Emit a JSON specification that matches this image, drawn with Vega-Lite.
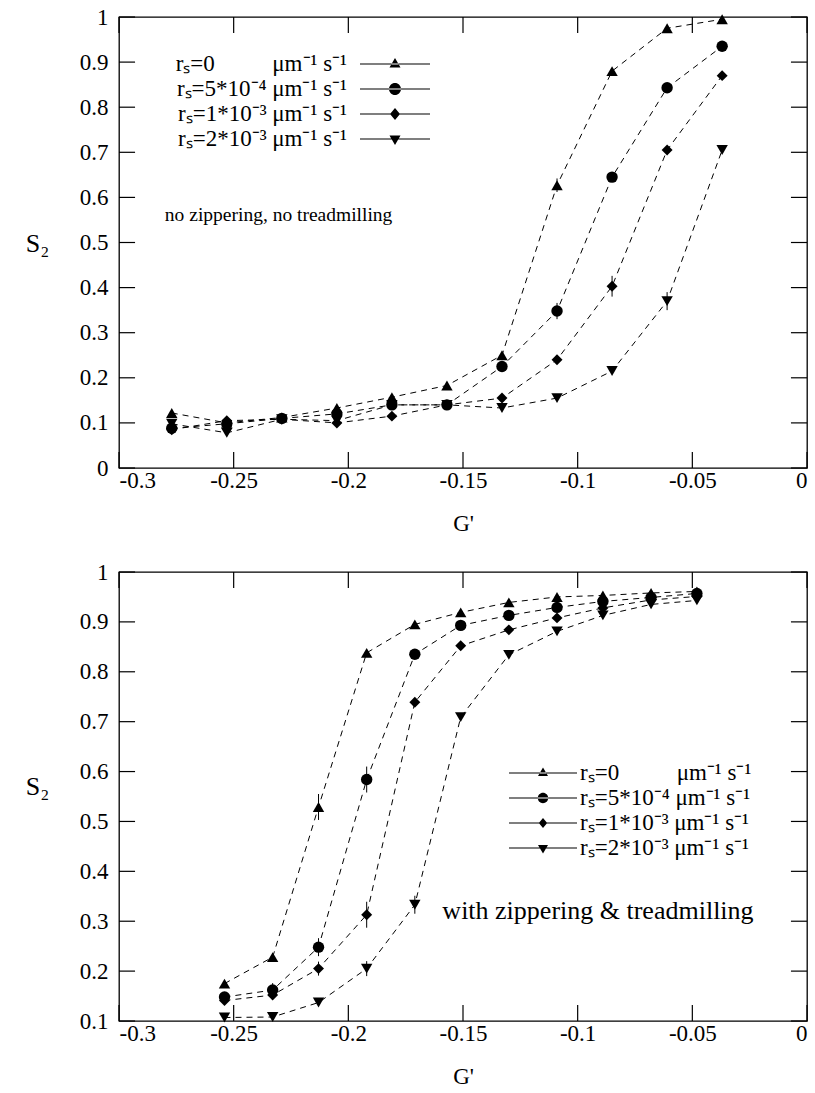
{
  "$schema": "https://vega.github.io/schema/vega-lite/v6.json",
  "padding": {"left": 24, "top": 5, "right": 0, "bottom": 0},
  "bounds": "flush",
  "spacing": 104,
  "config": {
    "font": "Liberation Serif",
    "view": {"stroke": "black", "strokeWidth": 1.3},
    "axis": {"domain": false, "ticks": false, "grid": false,
      "labelFont": "Liberation Serif", "labelFontSize": 23, "labelColor": "black",
      "titleFont": "Liberation Serif", "titleFontSize": 23, "titleFontWeight": "normal", "titleColor": "black"},
    "legend": {"padding": 0, "title": null, "symbolSize": 400, "rowPadding": 1, "labelFont": "Liberation Serif", "labelFontSize": 23, "labelColor": "black", "labelLimit": 400,
      "symbolStrokeColor": "black", "symbolStrokeWidth": 0.8, "symbolFillColor": "black", "symbolOpacity": 1}
  },
  "datasets": {
    "xt": [{"v": -0.3}, {"v": -0.25}, {"v": -0.2}, {"v": -0.15}, {"v": -0.1}, {"v": -0.05}, {"v": 0}],
    "yt1": [{"v": 0}, {"v": 0.1}, {"v": 0.2}, {"v": 0.3}, {"v": 0.4}, {"v": 0.5}, {"v": 0.6}, {"v": 0.7}, {"v": 0.8}, {"v": 0.9}, {"v": 1}],
    "yt2": [{"v": 0.1}, {"v": 0.2}, {"v": 0.3}, {"v": 0.4}, {"v": 0.5}, {"v": 0.6}, {"v": 0.7}, {"v": 0.8}, {"v": 0.9}, {"v": 1}],
    "top": [
      {"g": -0.277, "s2": 0.122, "series": "rs=0"},
      {"g": -0.253, "s2": 0.100, "series": "rs=0"},
      {"g": -0.229, "s2": 0.112, "series": "rs=0"},
      {"g": -0.205, "s2": 0.133, "series": "rs=0"},
      {"g": -0.181, "s2": 0.157, "series": "rs=0"},
      {"g": -0.157, "s2": 0.183, "series": "rs=0"},
      {"g": -0.133, "s2": 0.250, "series": "rs=0"},
      {"g": -0.109, "s2": 0.627, "series": "rs=0"},
      {"g": -0.085, "s2": 0.880, "series": "rs=0"},
      {"g": -0.061, "s2": 0.975, "series": "rs=0"},
      {"g": -0.037, "s2": 0.995, "series": "rs=0"},
      {"g": -0.277, "s2": 0.088, "series": "rs=5e-4"},
      {"g": -0.253, "s2": 0.098, "series": "rs=5e-4"},
      {"g": -0.229, "s2": 0.110, "series": "rs=5e-4"},
      {"g": -0.205, "s2": 0.120, "series": "rs=5e-4"},
      {"g": -0.181, "s2": 0.140, "series": "rs=5e-4"},
      {"g": -0.157, "s2": 0.140, "series": "rs=5e-4"},
      {"g": -0.133, "s2": 0.225, "series": "rs=5e-4"},
      {"g": -0.109, "s2": 0.348, "series": "rs=5e-4"},
      {"g": -0.085, "s2": 0.645, "series": "rs=5e-4"},
      {"g": -0.061, "s2": 0.843, "series": "rs=5e-4"},
      {"g": -0.037, "s2": 0.935, "series": "rs=5e-4"},
      {"g": -0.277, "s2": 0.085, "series": "rs=1e-3"},
      {"g": -0.253, "s2": 0.105, "series": "rs=1e-3"},
      {"g": -0.229, "s2": 0.108, "series": "rs=1e-3"},
      {"g": -0.205, "s2": 0.100, "series": "rs=1e-3"},
      {"g": -0.181, "s2": 0.115, "series": "rs=1e-3"},
      {"g": -0.157, "s2": 0.140, "series": "rs=1e-3"},
      {"g": -0.133, "s2": 0.155, "series": "rs=1e-3"},
      {"g": -0.109, "s2": 0.240, "series": "rs=1e-3"},
      {"g": -0.085, "s2": 0.403, "series": "rs=1e-3"},
      {"g": -0.061, "s2": 0.705, "series": "rs=1e-3"},
      {"g": -0.037, "s2": 0.870, "series": "rs=1e-3"},
      {"g": -0.277, "s2": 0.098, "series": "rs=2e-3"},
      {"g": -0.253, "s2": 0.078, "series": "rs=2e-3"},
      {"g": -0.229, "s2": 0.108, "series": "rs=2e-3"},
      {"g": -0.205, "s2": 0.105, "series": "rs=2e-3"},
      {"g": -0.181, "s2": 0.140, "series": "rs=2e-3"},
      {"g": -0.157, "s2": 0.140, "series": "rs=2e-3"},
      {"g": -0.133, "s2": 0.133, "series": "rs=2e-3"},
      {"g": -0.109, "s2": 0.155, "series": "rs=2e-3"},
      {"g": -0.085, "s2": 0.215, "series": "rs=2e-3"},
      {"g": -0.061, "s2": 0.370, "series": "rs=2e-3"},
      {"g": -0.037, "s2": 0.705, "series": "rs=2e-3"}
    ],
    "bottom": [
      {"g": -0.254, "s2": 0.175, "series": "rs=0"},
      {"g": -0.233, "s2": 0.228, "series": "rs=0"},
      {"g": -0.213, "s2": 0.529, "series": "rs=0"},
      {"g": -0.192, "s2": 0.838, "series": "rs=0"},
      {"g": -0.171, "s2": 0.895, "series": "rs=0"},
      {"g": -0.151, "s2": 0.919, "series": "rs=0"},
      {"g": -0.130, "s2": 0.939, "series": "rs=0"},
      {"g": -0.109, "s2": 0.950, "series": "rs=0"},
      {"g": -0.089, "s2": 0.953, "series": "rs=0"},
      {"g": -0.068, "s2": 0.958, "series": "rs=0"},
      {"g": -0.048, "s2": 0.961, "series": "rs=0"},
      {"g": -0.254, "s2": 0.148, "series": "rs=5e-4"},
      {"g": -0.233, "s2": 0.162, "series": "rs=5e-4"},
      {"g": -0.213, "s2": 0.248, "series": "rs=5e-4"},
      {"g": -0.192, "s2": 0.584, "series": "rs=5e-4"},
      {"g": -0.171, "s2": 0.835, "series": "rs=5e-4"},
      {"g": -0.151, "s2": 0.893, "series": "rs=5e-4"},
      {"g": -0.130, "s2": 0.913, "series": "rs=5e-4"},
      {"g": -0.109, "s2": 0.929, "series": "rs=5e-4"},
      {"g": -0.089, "s2": 0.941, "series": "rs=5e-4"},
      {"g": -0.068, "s2": 0.949, "series": "rs=5e-4"},
      {"g": -0.048, "s2": 0.957, "series": "rs=5e-4"},
      {"g": -0.254, "s2": 0.141, "series": "rs=1e-3"},
      {"g": -0.233, "s2": 0.152, "series": "rs=1e-3"},
      {"g": -0.213, "s2": 0.205, "series": "rs=1e-3"},
      {"g": -0.192, "s2": 0.313, "series": "rs=1e-3"},
      {"g": -0.171, "s2": 0.739, "series": "rs=1e-3"},
      {"g": -0.151, "s2": 0.852, "series": "rs=1e-3"},
      {"g": -0.130, "s2": 0.884, "series": "rs=1e-3"},
      {"g": -0.109, "s2": 0.908, "series": "rs=1e-3"},
      {"g": -0.089, "s2": 0.928, "series": "rs=1e-3"},
      {"g": -0.068, "s2": 0.944, "series": "rs=1e-3"},
      {"g": -0.048, "s2": 0.951, "series": "rs=1e-3"},
      {"g": -0.254, "s2": 0.107, "series": "rs=2e-3"},
      {"g": -0.233, "s2": 0.108, "series": "rs=2e-3"},
      {"g": -0.213, "s2": 0.137, "series": "rs=2e-3"},
      {"g": -0.192, "s2": 0.205, "series": "rs=2e-3"},
      {"g": -0.171, "s2": 0.333, "series": "rs=2e-3"},
      {"g": -0.151, "s2": 0.709, "series": "rs=2e-3"},
      {"g": -0.130, "s2": 0.834, "series": "rs=2e-3"},
      {"g": -0.109, "s2": 0.881, "series": "rs=2e-3"},
      {"g": -0.089, "s2": 0.913, "series": "rs=2e-3"},
      {"g": -0.068, "s2": 0.935, "series": "rs=2e-3"},
      {"g": -0.048, "s2": 0.943, "series": "rs=2e-3"}
    ],
    "topErr": [
      {"g": -0.109, "lo": 0.612, "hi": 0.642},
      {"g": -0.085, "lo": 0.38, "hi": 0.426},
      {"g": -0.061, "lo": 0.35, "hi": 0.39},
      {"g": -0.109, "lo": 0.33, "hi": 0.366}
    ],
    "bottomErr": [
      {"g": -0.213, "lo": 0.503, "hi": 0.555},
      {"g": -0.192, "lo": 0.558, "hi": 0.61},
      {"g": -0.213, "lo": 0.23, "hi": 0.266},
      {"g": -0.192, "lo": 0.287, "hi": 0.339},
      {"g": -0.233, "lo": 0.148, "hi": 0.176},
      {"g": -0.213, "lo": 0.191, "hi": 0.219},
      {"g": -0.192, "lo": 0.19, "hi": 0.22},
      {"g": -0.171, "lo": 0.315, "hi": 0.351}
    ]
  },
  "resolve": {"scale": {"x": "independent", "y": "independent", "shape": "independent"}, "legend": {"shape": "independent"}},
  "vconcat": [
    {
      "width": 688,
      "height": 451,
      "resolve": {"axis": {"x": "independent", "y": "independent"}},
      "layer": [
        {
          "data": {"name": "top"},
          "mark": {"type": "line", "strokeDash": [6, 5], "strokeWidth": 1, "color": "black"},
          "encoding": {
            "x": {"field": "g", "type": "quantitative", "scale": {"domain": [-0.3, 0], "nice": false, "zero": false},
              "axis": {"orient": "bottom", "values": [-0.3, -0.25, -0.2, -0.15, -0.1, -0.05, 0], "labelExpr": "toString(datum.value)", "title": "G'", "labelPadding": 1, "titlePadding": 20}},
            "y": {"field": "s2", "type": "quantitative", "scale": {"domain": [0, 1], "nice": false, "zero": false},
              "axis": {"orient": "left", "values": [0, 0.1, 0.2, 0.3, 0.4, 0.5, 0.6, 0.7, 0.8, 0.9, 1], "labelExpr": "toString(datum.value)", "labelPadding": 11,
                "title": "S₂", "titleAngle": 0, "titleX": -82, "titleY": 226, "titleAlign": "center", "titleBaseline": "middle", "titleFontSize": 26}},
            "detail": {"field": "series"}
          }
        },
        {
          "data": {"name": "xt"},
          "mark": {"type": "rule", "color": "black", "strokeWidth": 1.2},
          "encoding": {
            "x": {"field": "v", "type": "quantitative", "scale": {"domain": [-0.3, 0], "nice": false, "zero": false}, "axis": null},
            "y": {"datum": 0, "type": "quantitative", "scale": {"domain": [0, 1], "nice": false, "zero": false}, "axis": null},
            "y2": {"datum": 0.0355}
          }
        },
        {
          "data": {"name": "xt"},
          "mark": {"type": "rule", "color": "black", "strokeWidth": 1.2},
          "encoding": {
            "x": {"field": "v", "type": "quantitative", "scale": {"domain": [-0.3, 0], "nice": false, "zero": false}, "axis": null},
            "y": {"datum": 0.9645, "type": "quantitative", "scale": {"domain": [0, 1], "nice": false, "zero": false}, "axis": null},
            "y2": {"datum": 1}
          }
        },
        {
          "data": {"name": "yt1"},
          "mark": {"type": "rule", "color": "black", "strokeWidth": 1.2},
          "encoding": {
            "y": {"field": "v", "type": "quantitative", "scale": {"domain": [0, 1], "nice": false, "zero": false}, "axis": null},
            "x": {"datum": -0.3, "type": "quantitative", "scale": {"domain": [-0.3, 0], "nice": false, "zero": false}, "axis": null},
            "x2": {"datum": -0.293}
          }
        },
        {
          "data": {"name": "yt1"},
          "mark": {"type": "rule", "color": "black", "strokeWidth": 1.2},
          "encoding": {
            "y": {"field": "v", "type": "quantitative", "scale": {"domain": [0, 1], "nice": false, "zero": false}, "axis": null},
            "x": {"datum": -0.007, "type": "quantitative", "scale": {"domain": [-0.3, 0], "nice": false, "zero": false}, "axis": null},
            "x2": {"datum": 0}
          }
        },
        {
          "data": {"name": "topErr"},
          "mark": {"type": "rule", "color": "black", "strokeWidth": 1},
          "encoding": {
            "x": {"field": "g", "type": "quantitative", "scale": {"domain": [-0.3, 0], "nice": false, "zero": false}, "axis": null},
            "y": {"field": "lo", "type": "quantitative", "scale": {"domain": [0, 1], "nice": false, "zero": false}, "axis": null},
            "y2": {"field": "hi"}
          }
        },
        {
          "data": {"name": "top"},
          "transform": [{"filter": "datum.series == 'rs=0'"}],
          "mark": {"type": "point", "shape": "triangle-up", "filled": true, "size": 130, "color": "black", "opacity": 1},
          "encoding": {
            "x": {"field": "g", "type": "quantitative", "scale": {"domain": [-0.3, 0], "nice": false, "zero": false}, "axis": null},
            "y": {"field": "s2", "type": "quantitative", "scale": {"domain": [0, 1], "nice": false, "zero": false}, "axis": null}
          }
        },
        {
          "data": {"name": "top"},
          "transform": [{"filter": "datum.series == 'rs=5e-4'"}],
          "mark": {"type": "point", "shape": "circle", "filled": true, "size": 130, "color": "black", "opacity": 1},
          "encoding": {
            "x": {"field": "g", "type": "quantitative", "scale": {"domain": [-0.3, 0], "nice": false, "zero": false}, "axis": null},
            "y": {"field": "s2", "type": "quantitative", "scale": {"domain": [0, 1], "nice": false, "zero": false}, "axis": null}
          }
        },
        {
          "data": {"name": "top"},
          "transform": [{"filter": "datum.series == 'rs=1e-3'"}],
          "mark": {"type": "point", "shape": "diamond", "filled": true, "size": 120, "color": "black", "opacity": 1},
          "encoding": {
            "x": {"field": "g", "type": "quantitative", "scale": {"domain": [-0.3, 0], "nice": false, "zero": false}, "axis": null},
            "y": {"field": "s2", "type": "quantitative", "scale": {"domain": [0, 1], "nice": false, "zero": false}, "axis": null}
          }
        },
        {
          "data": {"name": "top"},
          "transform": [{"filter": "datum.series == 'rs=2e-3'"}],
          "mark": {"type": "point", "shape": "triangle-down", "filled": true, "size": 130, "color": "black", "opacity": 1},
          "encoding": {
            "x": {"field": "g", "type": "quantitative", "scale": {"domain": [-0.3, 0], "nice": false, "zero": false}, "axis": null},
            "y": {"field": "s2", "type": "quantitative", "scale": {"domain": [0, 1], "nice": false, "zero": false}, "axis": null}
          }
        },
        {
          "data": {"name": "top"},
          "mark": {"type": "point", "filled": true, "opacity": 0, "fill": "black", "stroke": "black", "strokeWidth": 0.8},
          "encoding": {
            "x": {"field": "g", "type": "quantitative", "scale": {"domain": [-0.3, 0], "nice": false, "zero": false}, "axis": null},
            "y": {"field": "s2", "type": "quantitative", "scale": {"domain": [0, 1], "nice": false, "zero": false}, "axis": null},
            "shape": {"field": "series", "type": "nominal",
              "scale": {"domain": ["rs=0", "rs=5e-4", "rs=1e-3", "rs=2e-3"],
                "range": [
                  "M-3.5,-0.06L3.5,-0.06L3.5,0.06L-3.5,0.06ZM-0.55,0.35L0.55,0.35L0,-0.6Z",
                  "M-3.5,-0.06L3.5,-0.06L3.5,0.06L-3.5,0.06ZM-0.6,0A0.6,0.6 0 1,0 0.6,0A0.6,0.6 0 1,0 -0.6,0Z",
                  "M-3.5,-0.06L3.5,-0.06L3.5,0.06L-3.5,0.06ZM-0.5,0L0,-0.6L0.5,0L0,0.6Z",
                  "M-3.5,-0.06L3.5,-0.06L3.5,0.06L-3.5,0.06ZM-0.55,-0.35L0.55,-0.35L0,0.6Z"
                ]},
              "legend": {"orient": "none", "legendX": 264.5, "legendY": 35.5, "labelAlign": "right", "labelOffset": -59.5,
                "symbolStrokeColor": "black", "symbolStrokeWidth": 0.8, "symbolFillColor": "black", "symbolOpacity": 1,
                "labelExpr": "datum.label == 'rs=0' ? 'rₛ=0\u00a0\u00a0\u00a0\u00a0\u00a0\u00a0\u00a0\u00a0\u00a0 μm⁻¹ s⁻¹' : datum.label == 'rs=5e-4' ? 'rₛ=5*10⁻⁴ μm⁻¹ s⁻¹' : datum.label == 'rs=1e-3' ? 'rₛ=1*10⁻³ μm⁻¹ s⁻¹' : 'rₛ=2*10⁻³ μm⁻¹ s⁻¹'"}
            }
          }
        },
        {
          "data": {"values": [{"g": -0.28, "s2": 0.56, "note": "no zippering, no treadmilling"}]},
          "mark": {"type": "text", "align": "left", "baseline": "middle", "fontSize": 19.5, "color": "black", "font": "Liberation Serif"},
          "encoding": {
            "x": {"field": "g", "type": "quantitative", "scale": {"domain": [-0.3, 0], "nice": false, "zero": false}, "axis": null},
            "y": {"field": "s2", "type": "quantitative", "scale": {"domain": [0, 1], "nice": false, "zero": false}, "axis": null},
            "text": {"field": "note"}
          }
        }
      ]
    },
    {
      "width": 688,
      "height": 449,
      "resolve": {"axis": {"x": "independent", "y": "independent"}},
      "layer": [
        {
          "data": {"name": "bottom"},
          "mark": {"type": "line", "strokeDash": [6, 5], "strokeWidth": 1, "color": "black"},
          "encoding": {
            "x": {"field": "g", "type": "quantitative", "scale": {"domain": [-0.3, 0], "nice": false, "zero": false},
              "axis": {"orient": "bottom", "values": [-0.3, -0.25, -0.2, -0.15, -0.1, -0.05, 0], "labelExpr": "toString(datum.value)", "title": "G'", "labelPadding": 1, "titlePadding": 20}},
            "y": {"field": "s2", "type": "quantitative", "scale": {"domain": [0.1, 1], "nice": false, "zero": false},
              "axis": {"orient": "left", "values": [0.1, 0.2, 0.3, 0.4, 0.5, 0.6, 0.7, 0.8, 0.9, 1], "labelExpr": "toString(datum.value)", "labelPadding": 11,
                "title": "S₂", "titleAngle": 0, "titleX": -82, "titleY": 214, "titleAlign": "center", "titleBaseline": "middle", "titleFontSize": 26}},
            "detail": {"field": "series"}
          }
        },
        {
          "data": {"name": "xt"},
          "mark": {"type": "rule", "color": "black", "strokeWidth": 1.2},
          "encoding": {
            "x": {"field": "v", "type": "quantitative", "scale": {"domain": [-0.3, 0], "nice": false, "zero": false}, "axis": null},
            "y": {"datum": 0.1, "type": "quantitative", "scale": {"domain": [0.1, 1], "nice": false, "zero": false}, "axis": null},
            "y2": {"datum": 0.132}
          }
        },
        {
          "data": {"name": "xt"},
          "mark": {"type": "rule", "color": "black", "strokeWidth": 1.2},
          "encoding": {
            "x": {"field": "v", "type": "quantitative", "scale": {"domain": [-0.3, 0], "nice": false, "zero": false}, "axis": null},
            "y": {"datum": 0.968, "type": "quantitative", "scale": {"domain": [0.1, 1], "nice": false, "zero": false}, "axis": null},
            "y2": {"datum": 1}
          }
        },
        {
          "data": {"name": "yt2"},
          "mark": {"type": "rule", "color": "black", "strokeWidth": 1.2},
          "encoding": {
            "y": {"field": "v", "type": "quantitative", "scale": {"domain": [0.1, 1], "nice": false, "zero": false}, "axis": null},
            "x": {"datum": -0.3, "type": "quantitative", "scale": {"domain": [-0.3, 0], "nice": false, "zero": false}, "axis": null},
            "x2": {"datum": -0.293}
          }
        },
        {
          "data": {"name": "yt2"},
          "mark": {"type": "rule", "color": "black", "strokeWidth": 1.2},
          "encoding": {
            "y": {"field": "v", "type": "quantitative", "scale": {"domain": [0.1, 1], "nice": false, "zero": false}, "axis": null},
            "x": {"datum": -0.007, "type": "quantitative", "scale": {"domain": [-0.3, 0], "nice": false, "zero": false}, "axis": null},
            "x2": {"datum": 0}
          }
        },
        {
          "data": {"name": "bottomErr"},
          "mark": {"type": "rule", "color": "black", "strokeWidth": 1},
          "encoding": {
            "x": {"field": "g", "type": "quantitative", "scale": {"domain": [-0.3, 0], "nice": false, "zero": false}, "axis": null},
            "y": {"field": "lo", "type": "quantitative", "scale": {"domain": [0.1, 1], "nice": false, "zero": false}, "axis": null},
            "y2": {"field": "hi"}
          }
        },
        {
          "data": {"name": "bottom"},
          "transform": [{"filter": "datum.series == 'rs=0'"}],
          "mark": {"type": "point", "shape": "triangle-up", "filled": true, "size": 130, "color": "black", "opacity": 1},
          "encoding": {
            "x": {"field": "g", "type": "quantitative", "scale": {"domain": [-0.3, 0], "nice": false, "zero": false}, "axis": null},
            "y": {"field": "s2", "type": "quantitative", "scale": {"domain": [0.1, 1], "nice": false, "zero": false}, "axis": null}
          }
        },
        {
          "data": {"name": "bottom"},
          "transform": [{"filter": "datum.series == 'rs=5e-4'"}],
          "mark": {"type": "point", "shape": "circle", "filled": true, "size": 130, "color": "black", "opacity": 1},
          "encoding": {
            "x": {"field": "g", "type": "quantitative", "scale": {"domain": [-0.3, 0], "nice": false, "zero": false}, "axis": null},
            "y": {"field": "s2", "type": "quantitative", "scale": {"domain": [0.1, 1], "nice": false, "zero": false}, "axis": null}
          }
        },
        {
          "data": {"name": "bottom"},
          "transform": [{"filter": "datum.series == 'rs=1e-3'"}],
          "mark": {"type": "point", "shape": "diamond", "filled": true, "size": 120, "color": "black", "opacity": 1},
          "encoding": {
            "x": {"field": "g", "type": "quantitative", "scale": {"domain": [-0.3, 0], "nice": false, "zero": false}, "axis": null},
            "y": {"field": "s2", "type": "quantitative", "scale": {"domain": [0.1, 1], "nice": false, "zero": false}, "axis": null}
          }
        },
        {
          "data": {"name": "bottom"},
          "transform": [{"filter": "datum.series == 'rs=2e-3'"}],
          "mark": {"type": "point", "shape": "triangle-down", "filled": true, "size": 130, "color": "black", "opacity": 1},
          "encoding": {
            "x": {"field": "g", "type": "quantitative", "scale": {"domain": [-0.3, 0], "nice": false, "zero": false}, "axis": null},
            "y": {"field": "s2", "type": "quantitative", "scale": {"domain": [0.1, 1], "nice": false, "zero": false}, "axis": null}
          }
        },
        {
          "data": {"name": "bottom"},
          "mark": {"type": "point", "filled": true, "opacity": 0, "fill": "black", "stroke": "black", "strokeWidth": 0.8},
          "encoding": {
            "x": {"field": "g", "type": "quantitative", "scale": {"domain": [-0.3, 0], "nice": false, "zero": false}, "axis": null},
            "y": {"field": "s2", "type": "quantitative", "scale": {"domain": [0.1, 1], "nice": false, "zero": false}, "axis": null},
            "shape": {"field": "series", "type": "nominal",
              "scale": {"domain": ["rs=0", "rs=5e-4", "rs=1e-3", "rs=2e-3"],
                "range": [
                  "M-3.4,-0.06L3.4,-0.06L3.4,0.06L-3.4,0.06ZM-0.5,0.3L0.5,0.3L0,-0.55Z",
                  "M-3.4,-0.06L3.4,-0.06L3.4,0.06L-3.4,0.06ZM-0.52,0A0.52,0.52 0 1,0 0.52,0A0.52,0.52 0 1,0 -0.52,0Z",
                  "M-3.4,-0.06L3.4,-0.06L3.4,0.06L-3.4,0.06ZM-0.42,0L0,-0.5L0.42,0L0,0.5Z",
                  "M-3.4,-0.06L3.4,-0.06L3.4,0.06L-3.4,0.06ZM-0.5,-0.3L0.5,-0.3L0,0.55Z"
                ]},
              "legend": {"orient": "none", "legendX": 412.5, "legendY": 189.5, "labelAlign": "left", "labelOffset": 25.5,
                "symbolStrokeColor": "black", "symbolStrokeWidth": 0.8, "symbolFillColor": "black", "symbolOpacity": 1,
                "labelExpr": "datum.label == 'rs=0' ? 'rₛ=0\u00a0\u00a0\u00a0\u00a0\u00a0\u00a0\u00a0\u00a0\u00a0 μm⁻¹ s⁻¹' : datum.label == 'rs=5e-4' ? 'rₛ=5*10⁻⁴ μm⁻¹ s⁻¹' : datum.label == 'rs=1e-3' ? 'rₛ=1*10⁻³ μm⁻¹ s⁻¹' : 'rₛ=2*10⁻³ μm⁻¹ s⁻¹'"}
            }
          }
        },
        {
          "data": {"values": [{"g": -0.159, "s2": 0.32, "note": "with zippering & treadmilling"}]},
          "mark": {"type": "text", "align": "left", "baseline": "middle", "fontSize": 26, "color": "black", "font": "Liberation Serif"},
          "encoding": {
            "x": {"field": "g", "type": "quantitative", "scale": {"domain": [-0.3, 0], "nice": false, "zero": false}, "axis": null},
            "y": {"field": "s2", "type": "quantitative", "scale": {"domain": [0.1, 1], "nice": false, "zero": false}, "axis": null},
            "text": {"field": "note"}
          }
        }
      ]
    }
  ]
}
